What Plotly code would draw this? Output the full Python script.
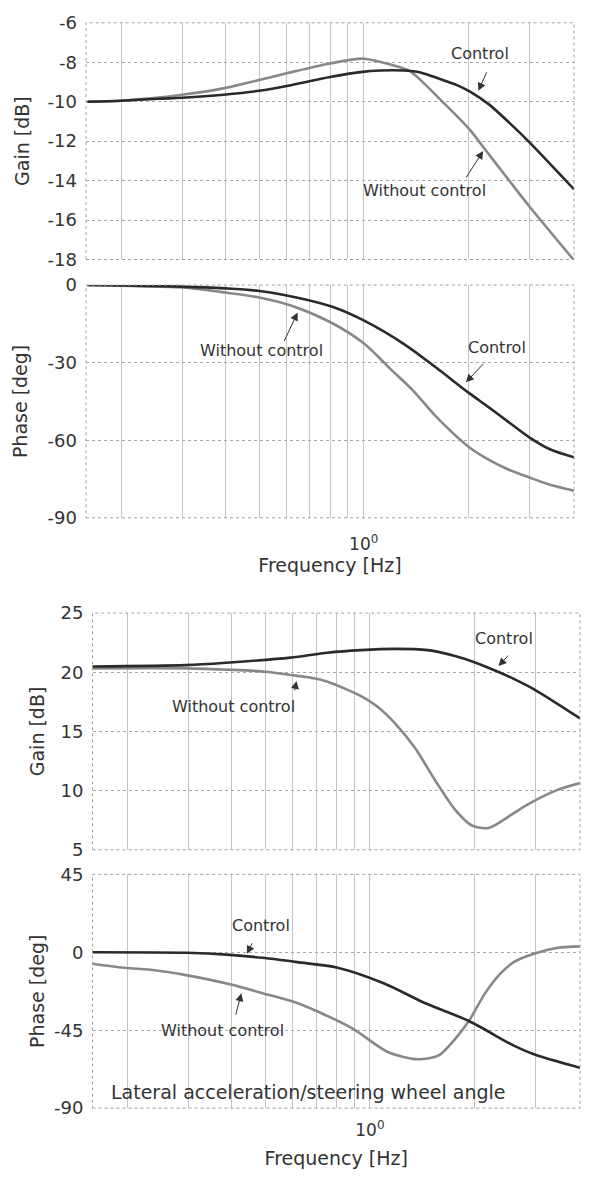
import math
import plotly.graph_objects as go

# ---------------- data ----------------
# Panel A: gain [dB]
gA_ctrl_f = [0.16, 0.2, 0.257, 0.3, 0.395, 0.5, 0.622, 0.8, 0.978, 1.12, 1.3, 1.457, 1.66, 1.85, 2.03, 2.3, 2.64, 3.0, 4.04]
gA_ctrl_v = [-10.0, -9.95, -9.85, -9.8, -9.65, -9.45, -9.15, -8.75, -8.5, -8.42, -8.42, -8.52, -8.85, -9.15, -9.5, -10.15, -11.1, -12.05, -14.45]
gA_wo_f = [0.16, 0.2, 0.3, 0.4, 0.5, 0.6, 0.8, 1.0, 1.14, 1.25, 1.364, 1.66, 2.03, 2.21, 2.64, 3.0, 4.04]
gA_wo_v = [-10.0, -9.95, -9.65, -9.3, -8.9, -8.56, -8.06, -7.82, -8.03, -8.22, -8.47, -9.88, -11.45, -12.3, -14.05, -15.3, -18.05]

# Panel A: phase [deg]
pA_ctrl_f = [0.16, 0.2, 0.3, 0.4, 0.5, 0.655, 0.82, 1.0, 1.32, 1.62, 2.0, 2.29, 2.61, 3.0, 3.44, 4.04]
pA_ctrl_v = [0.0, -0.2, -0.6, -1.3, -2.3, -5.1, -8.6, -13.7, -23.2, -32.0, -41.5, -47.2, -52.9, -58.9, -63.5, -66.6]
pA_wo_f = [0.16, 0.2, 0.3, 0.4, 0.5, 0.62, 0.8, 1.0, 1.2, 1.39, 1.62, 2.0, 2.29, 2.61, 3.0, 3.44, 4.04]
pA_wo_v = [0.0, -0.3, -0.9, -2.9, -4.8, -8.0, -14.3, -22.5, -32.7, -40.9, -51.0, -62.4, -67.5, -71.3, -74.4, -77.2, -79.5]

# Panel B: gain [dB]
gB_ctrl_f = [0.158, 0.295, 0.395, 0.59, 0.755, 0.94, 1.18, 1.47, 1.76, 2.01, 2.36, 2.6, 3.0, 4.04]
gB_ctrl_v = [20.49, 20.6, 20.83, 21.24, 21.65, 21.87, 21.98, 21.87, 21.37, 20.83, 20.0, 19.44, 18.5, 16.1]
gB_wo_f = [0.158, 0.295, 0.395, 0.5, 0.59, 0.69, 0.755, 0.85, 0.94, 1.05, 1.18, 1.35, 1.54, 1.76, 1.97, 2.2, 2.6, 2.84, 3.46, 4.04]
gB_wo_v = [20.33, 20.33, 20.21, 20.05, 19.77, 19.5, 19.2, 18.6, 18.0, 17.1, 15.7, 13.6, 10.9, 8.4, 7.05, 6.85, 8.1, 8.8, 10.04, 10.64]

# Panel B: phase [deg]
pB_ctrl_f = [0.158, 0.295, 0.395, 0.49, 0.617, 0.807, 1.1, 1.44, 1.93, 2.6, 3.0, 4.04]
pB_ctrl_v = [0.0, -0.3, -1.5, -3.2, -5.7, -8.9, -18.0, -29.3, -39.7, -53.9, -59.2, -66.7]
pB_wo_f = [0.158, 0.195, 0.24, 0.295, 0.395, 0.49, 0.617, 0.882, 1.13, 1.38, 1.58, 1.76, 1.93, 2.15, 2.36, 2.6, 2.97, 3.46, 4.04]
pB_wo_v = [-6.6, -8.9, -10.4, -13.2, -18.5, -23.6, -29.3, -43.5, -57.7, -61.8, -59.5, -50.1, -39.7, -23.6, -13.0, -5.7, -0.9, 2.5, 3.4]

# tick definitions
freq_grid = [0.2, 0.3, 0.4, 0.5, 0.6, 0.7, 0.8, 0.9, 1.0, 2.0, 3.0]
freq_text = ["", "", "", "", "", "", "", "", "10<sup>0</sup>", "", ""]
gA_ticks = [-6, -8, -10, -12, -14, -16, -18]
pA_ticks = [0, -30, -60, -90]
gB_ticks = [25, 20, 15, 10, 5]
pB_ticks = [45, 0, -45, -90]

# ---------------- styling ----------------
FONT = "DejaVu Sans, sans-serif"
DARK = "#2a2a2a"
GRAY = "#888888"
TXT = "#333333"
W = 590
H = 1180


def ydom(top_px, bot_px):
    return [1 - bot_px / H, 1 - top_px / H]


fig = go.Figure()


def add_pair(fc, vc, fw, vw, xa, ya):
    fig.add_trace(go.Scatter(x=fw, y=vw, mode="lines", xaxis=xa, yaxis=ya,
                             line=dict(color=GRAY, width=2.6, shape="spline", smoothing=0.8),
                             showlegend=False, hoverinfo="skip"))
    fig.add_trace(go.Scatter(x=fc, y=vc, mode="lines", xaxis=xa, yaxis=ya,
                             line=dict(color=DARK, width=2.6, shape="spline", smoothing=0.8),
                             showlegend=False, hoverinfo="skip"))


add_pair(gA_ctrl_f, gA_ctrl_v, gA_wo_f, gA_wo_v, "x", "y")
add_pair(pA_ctrl_f, pA_ctrl_v, pA_wo_f, pA_wo_v, "x2", "y2")
add_pair(gB_ctrl_f, gB_ctrl_v, gB_wo_f, gB_wo_v, "x3", "y3")
add_pair(pB_ctrl_f, pB_ctrl_v, pB_wo_f, pB_wo_v, "x4", "y4")

XRANGE = [-0.8, 0.606]


def xaxis(domain, anchor, labels, lab_pad=12, title_pad=2):
    d = dict(type="log", range=XRANGE, domain=domain, anchor=anchor,
             tickvals=freq_grid, ticktext=freq_text,
             showgrid=True, gridcolor="#c4c4c4", gridwidth=1,
             showline=False, zeroline=False,
             showticklabels=labels, ticks="", ticklabelstandoff=lab_pad,
             tickfont=dict(family=FONT, size=17, color=TXT))
    if labels:
        d["title"] = dict(text="Frequency [Hz]", font=dict(family=FONT, size=19, color=TXT),
                          standoff=title_pad)
    return d


def yaxis(domain, anchor, ticks, rng, title, standoff):
    return dict(range=rng, domain=domain, anchor=anchor,
                tickvals=ticks, ticktext=[str(t) for t in ticks],
                showgrid=True, gridcolor="#a8a8a8", gridwidth=1, griddash="dot",
                showline=False, zeroline=False, ticks="", ticklabelstandoff=8,
                tickfont=dict(family=FONT, size=18, color=TXT),
                title=dict(text=title, font=dict(family=FONT, size=19, color=TXT), standoff=standoff))


xdA = [86 / W, 574 / W]
xdB = [92.5 / W, 580 / W]

fig.update_layout(
    width=W, height=H,
    margin=dict(l=0, r=0, t=0, b=0),
    paper_bgcolor="white", plot_bgcolor="white",
    xaxis=xaxis(xdA, "y", False),
    xaxis2=xaxis(xdA, "y2", True, lab_pad=14, title_pad=0),
    xaxis3=xaxis(xdB, "y3", False),
    xaxis4=xaxis(xdB, "y4", True, lab_pad=10, title_pad=12),
    yaxis=yaxis(ydom(12, 253), "x", gA_ticks, [-18, -6], "Gain [dB]", 12),
    yaxis2=yaxis(ydom(279, 516), "x2", pA_ticks, [-90, 0], "Phase [deg]", 14),
    yaxis3=yaxis(ydom(613, 854), "x3", gB_ticks, [5, 25], "Gain [dB]", 10),
    yaxis4=yaxis(ydom(879, 1117), "x4", pB_ticks, [-90, 45], "Phase [deg]", 4),
)

# dotted frame around each plotting area
for xr, yr in [("x", "y"), ("x2", "y2"), ("x3", "y3"), ("x4", "y4")]:
    fig.add_shape(type="rect", xref=f"{xr} domain", yref=f"{yr} domain",
                  x0=0, x1=1, y0=0, y1=1,
                  line=dict(color="#a0a0a0", width=1, dash="dot"))


def label(xr, yr, f, v, text, size=16):
    fig.add_annotation(xref=xr, yref=yr, x=math.log10(f), y=v, text=text,
                       showarrow=False, font=dict(family=FONT, size=size, color=TXT))


def arrow(xr, yr, f, v, ax, ay):
    fig.add_annotation(xref=xr, yref=yr, x=math.log10(f), y=v, text="",
                       showarrow=True, arrowhead=2, arrowsize=1.6, arrowwidth=1,
                       arrowcolor="#333333", ax=ax, ay=ay, standoff=0)


# panel A gain
label("x", "y", 2.16, -7.54, "Control")
arrow("x", "y", 2.14, -9.45, 9, -20)
label("x", "y", 1.50, -14.5, "Without control")
arrow("x", "y", 2.21, -12.5, -18, 28)
# panel A phase
label("x2", "y2", 0.507, -25.4, "Without control")
arrow("x2", "y2", 0.645, -10.6, -14, 30)
label("x2", "y2", 2.42, -24.3, "Control")
arrow("x2", "y2", 1.97, -37.6, 19, -20)
# panel B gain
label("x3", "y3", 2.44, 22.84, "Control")
arrow("x3", "y3", 2.35, 20.52, 11, -12)
label("x3", "y3", 0.404, 17.12, "Without control")
arrow("x3", "y3", 0.614, 19.27, -2, 11)
# panel B phase
label("x4", "y4", 0.485, 15.5, "Control")
arrow("x4", "y4", 0.442, -0.9, 6, -12)
label("x4", "y4", 0.377, -45.2, "Without control")
arrow("x4", "y4", 0.426, -23.6, -6, 23)
label("x4", "y4", 0.667, -80.9, "Lateral acceleration/steering wheel angle", size=19)

fig.write_html("out.html", post_script="document.body.style.margin='0';")
